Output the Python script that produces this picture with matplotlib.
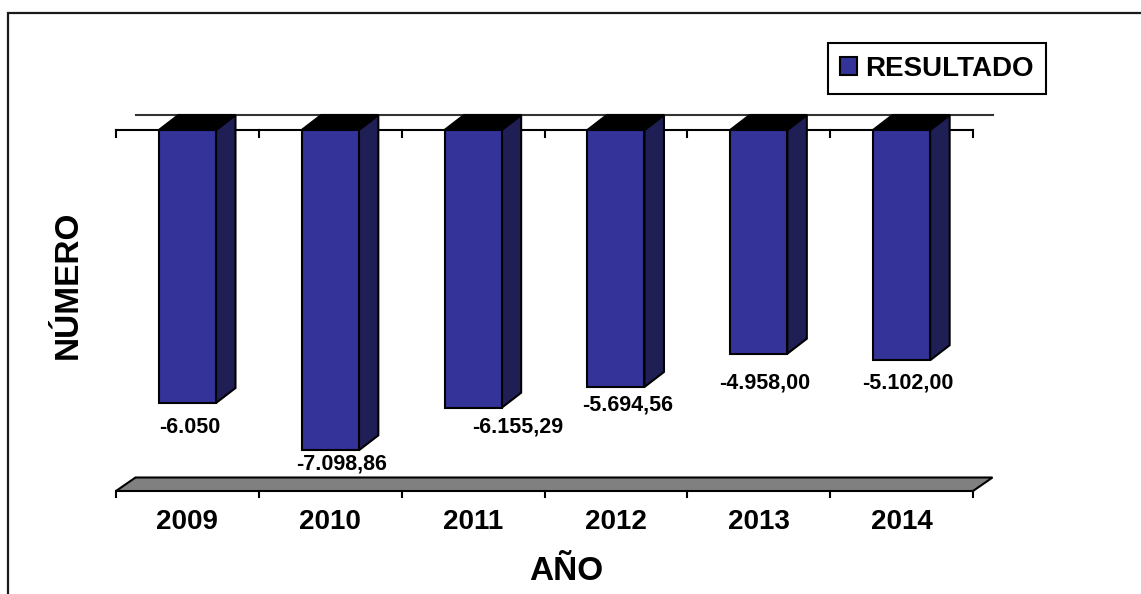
import matplotlib
matplotlib.use('Agg')
import matplotlib.pyplot as plt
from matplotlib.patches import Polygon, Rectangle, Patch

plt.rcParams['font.family'] = ['Liberation Sans', 'DejaVu Sans']
plt.rcParams['font.weight'] = 'bold'

# data
years = ['2009', '2010', '2011', '2012', '2013', '2014']
resultado = [-6050.0, -7098.86, -6155.29, -5694.56, -4958.00, -5102.00]
labels = ['-6.050', '-7.098,86', '-6.155,29', '-5.694,56', '-4.958,00', '-5.102,00']

# label nudges in pixels (dx, dy) relative to bar bottom centre
label_nudge = [(2, -24), (11, -14), (45, -19), (12, -18), (6, -29), (6, -23)]

W, H = 1141, 594
fig = plt.figure(figsize=(W / 100, H / 100), dpi=100)

# outer frame (cut off on the right and bottom)
fig.patches.append(Rectangle((8 / W, -0.2), 2, 1.2 - 13 / H, transform=fig.transFigure,
                             fill=False, edgecolor='#1a1a1a', lw=1.6))

ymin = -8000
ax_l, ax_r, ax_t, ax_b = 116, 973, 130, 491
ax = fig.add_axes([ax_l / W, 1 - ax_b / H, (ax_r - ax_l) / W, (ax_b - ax_t) / H])
n = len(years)
ax.set_xlim(0, n)
ax.set_ylim(ymin, 0)
ax.axis('off')

px_x = n / (ax_r - ax_l)          # data units per pixel, x
px_y = -ymin / (ax_b - ax_t)      # data units per pixel, y
dx, dy = 19.5 * px_x, 15 * px_y
tick = 7 * px_y

# back wall top line and front zero line with ticks
ax.plot([dx, n + dx], [dy, dy], color='#333333', lw=1.5, zorder=1, clip_on=False)
ax.plot([0, n], [0, 0], color='black', lw=1.5, zorder=1, clip_on=False)
for i in range(n + 1):
    ax.plot([i, i], [0, -tick], color='black', lw=1.5, zorder=1, clip_on=False)

# floor
fdy = 13.5 * px_y
ax.add_patch(Polygon([(0, ymin), (n, ymin), (n + dx, ymin + fdy), (dx, ymin + fdy)],
                     closed=True, facecolor='#808080', edgecolor='black', lw=1.5,
                     zorder=1, clip_on=False))
for i in range(n + 1):
    ax.plot([i, i], [ymin, ymin - 6 * px_y], color='black', lw=1.5, zorder=1, clip_on=False)

# bars
xs = [i + 0.5 for i in range(n)]
bw = 0.4
bars = ax.bar(xs, resultado, width=bw, color='#333399', edgecolor='black', lw=1.5,
              zorder=3, clip_on=False)
for b in bars:
    x0 = b.get_x()
    x1 = x0 + b.get_width()
    v = b.get_height()
    side = Polygon([(x1, 0), (x1 + dx, dy), (x1 + dx, v + dy), (x1, v)], closed=True,
                   facecolor='#1f1f55', edgecolor='black', lw=1.5, zorder=2, clip_on=False)
    top = Polygon([(x0, 0), (x0 + dx, dy), (x1 + dx, dy), (x1, 0)], closed=True,
                  facecolor='black', edgecolor='black', lw=1.5, zorder=2, clip_on=False)
    ax.add_patch(side)
    ax.add_patch(top)

# value labels
for x, v, lab, (ox, oy) in zip(xs, resultado, labels, label_nudge):
    ax.annotate(lab, (x, v), xytext=(ox * 0.72, oy * 0.72), textcoords='offset points',
                ha='center', va='center', fontsize=15.5, fontweight='bold')

# year labels
for x, yr in zip(xs, years):
    ax.annotate(yr, (x, ymin), xytext=(0, -31 * 0.72), textcoords='offset points',
                ha='center', va='center', fontsize=20, fontweight='bold')

fig.text(566 / W, 1 - 571 / H, 'AÑO', ha='center', va='center', fontsize=24, fontweight='bold')
fig.text(68 / W, 1 - 285 / H, 'NÚMERO', ha='center', va='center', rotation=90,
         fontsize=24, fontweight='bold')

leg = fig.legend(handles=[Patch(facecolor='#333399', edgecolor='black', lw=1.5)],
                 labels=['RESULTADO'], loc='upper right',
                 bbox_to_anchor=(1046 / W, 1 - 43 / H), borderaxespad=0,
                 fancybox=False, framealpha=1, handlelength=0.6, handleheight=0.6,
                 handletextpad=0.3, borderpad=0.45, prop={'size': 20, 'weight': 'bold'})
leg.get_frame().set_edgecolor('black')
leg.get_frame().set_linewidth(1.5)

fig.savefig('out.png', dpi=100)
